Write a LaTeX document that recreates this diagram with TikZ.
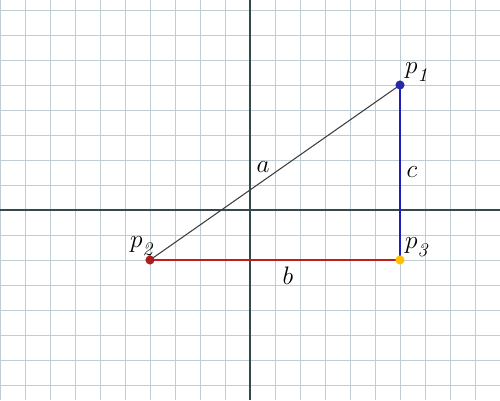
\documentclass[tikz,border=0pt]{standalone}
\definecolor{gridc}{RGB}{192,206,211}
\definecolor{axisc}{RGB}{52,72,80}
\definecolor{hypc}{RGB}{60,60,60}
\definecolor{bluec}{RGB}{30,30,190}
\definecolor{dotblue}{RGB}{40,40,170}
\definecolor{redc}{RGB}{190,30,30}
\definecolor{dotred}{RGB}{170,30,30}
\definecolor{yelc}{RGB}{255,192,0}
\newcommand{\plab}[1]{$p_{\raisebox{-0.35ex}{$\scriptstyle\mathit{#1}$}}$}
\begin{document}
\begin{tikzpicture}[x=0.5cm,y=0.5cm,
  lab/.style={font=\fontsize{15}{17}\selectfont, inner sep=0pt},
  dot/.style={circle, inner sep=0pt, minimum size=5.2pt}]
\useasboundingbox (-10,-7.6) rectangle (10,8.4);
\fill[white] (-10,-7.6) rectangle (10,8.4);
\draw[gridc, line width=0.55pt, step=0.5cm] (-10,-7.6) grid (10,8.4);
\draw[axisc, line width=0.65pt] (-10,0) -- (10,0);
\draw[axisc, line width=0.65pt] (0,-7.6) -- (0,8.4);
\foreach \i in {-10,...,10} \draw[axisc, line width=0.5pt] (\i,-0.05) -- (\i,0.05);
\foreach \j in {-7,...,8} \draw[axisc, line width=0.5pt] (-0.05,\j) -- (0.05,\j);
\coordinate (P1) at (6,5);
\coordinate (P2) at (-4,-2);
\coordinate (P3) at (6,-2);
\draw[hypc, line width=0.6pt] (P2) -- (P1);
\draw[bluec, line width=0.6pt] (P1) -- (P3);
\draw[redc, line width=0.6pt] (P2) -- (P3);
\node[dot, fill=dotblue] (d1) at (P1) {};
\node[dot, fill=dotred] (d2) at (P2) {};
\node[dot, fill=yelc] (d3) at (P3) {};
\node[lab] (l1) at (6.72,5.52) {\plab{1}};
\node[lab] (l2) at (-4.28,-1.44) {\plab{2}};
\node[lab] (l3) at (6.72,-1.48) {\plab{3}};
\node[lab] (la) at (0.52,1.72) {$a$};
\node[lab] (lc) at (6.48,1.52) {$c$};
\node[lab] (lb) at (1.52,-2.64) {$b$};
\end{tikzpicture}
\end{document}
